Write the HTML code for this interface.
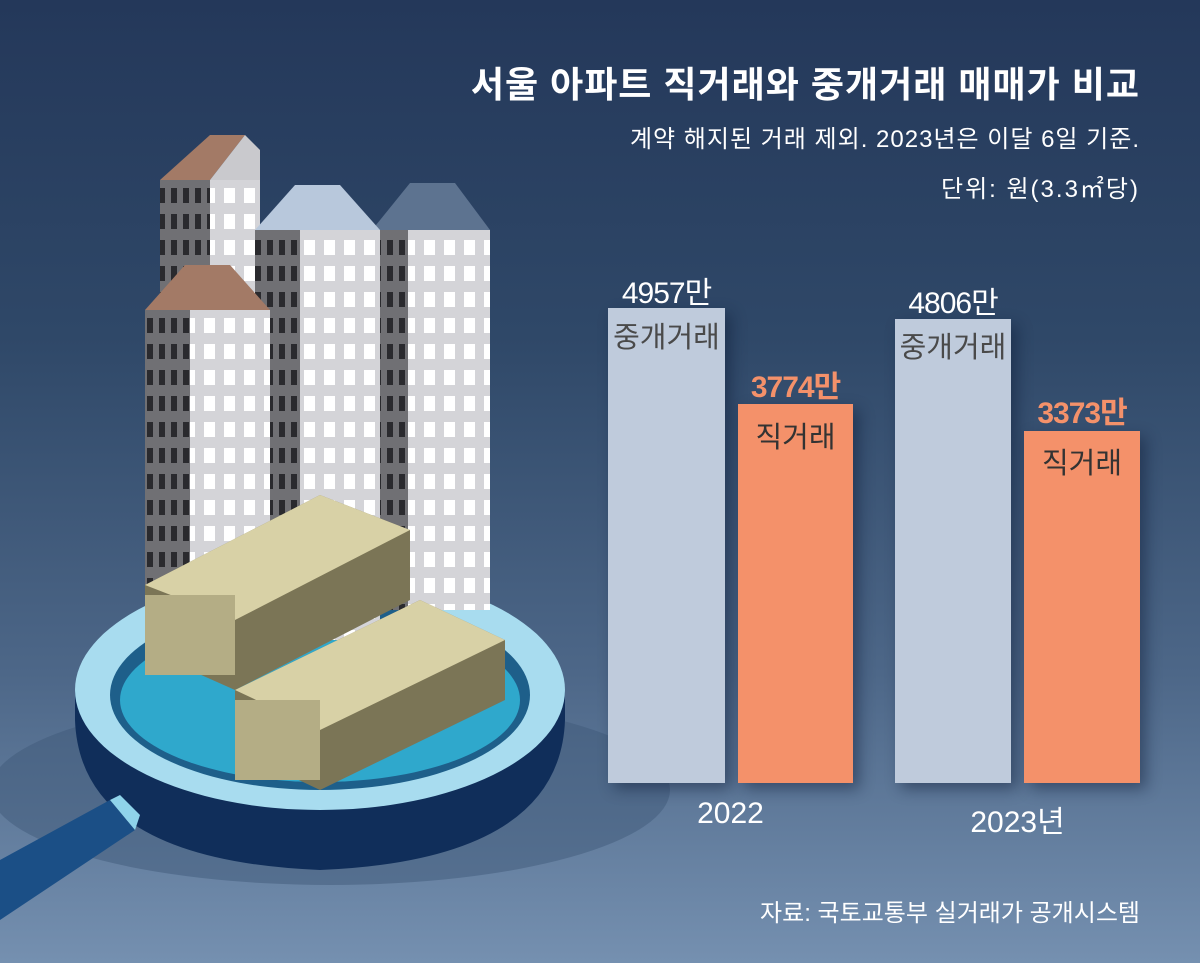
<!DOCTYPE html>
<html><head><meta charset="utf-8"><style>
body{margin:0;width:1200px;height:963px;overflow:hidden;font-family:"Liberation Sans","Noto Sans CJK KR",sans-serif;}
.bg{position:absolute;left:0;top:0;width:1200px;height:963px;background:linear-gradient(180deg,#24385a 0%,#2f4868 35%,#4d6788 70%,#7590b0 100%);}
.t{position:absolute;white-space:nowrap;}
.bar{position:absolute;box-shadow:6px 6px 14px rgba(10,25,50,.45);}
</style></head><body>
<div class="bg"></div>
<svg width="1200" height="963" style="position:absolute;left:0;top:0">
<defs>
<pattern id="wl" width="20" height="26" patternUnits="userSpaceOnUse"><rect width="20" height="26" fill="#d4d4d8"/><rect x="4" y="6" width="11" height="15" fill="#fff"/></pattern>
<pattern id="wd" width="12" height="26" patternUnits="userSpaceOnUse"><rect width="12" height="26" fill="#707074"/><rect x="3" y="6" width="6" height="15" fill="#2a2a2e"/></pattern>
</defs>
<ellipse cx="330" cy="790" rx="340" ry="95" fill="#3f5a7a" opacity=".5"/>
<path d="M75 690 Q320 760 565 690 L565 720 Q560 860 320 870 Q80 860 75 720Z" fill="#102e5a"/>
<ellipse cx="320" cy="690" rx="245" ry="120" fill="#a8dcef"/>
<ellipse cx="320" cy="695" rx="210" ry="95" fill="#1e5f8a"/>
<ellipse cx="320" cy="700" rx="200" ry="82" fill="#2fa8cc"/>
<path d="M0 860 L110 800 L135 830 L30 900 L0 920Z" fill="#1b4f86"/>
<path d="M110 800 L135 830 L140 815 L120 795Z" fill="#8fd3ea"/>
<rect x="210" y="180" width="50" height="410" fill="url(#wl)"/>
<polygon points="160,180 210,135 245,135 210,180" fill="#a37a66"/>
<polygon points="210,180 245,135 260,150 260,180" fill="#c9c9cd"/>
<rect x="160" y="180" width="50" height="410" fill="url(#wd)"/>
<rect x="408" y="230" width="82" height="380" fill="url(#wl)"/>
<polygon points="372,230 410,183 455,183 490,230" fill="#5d7390"/>
<rect x="372" y="230" width="36" height="380" fill="url(#wd)"/>
<rect x="300" y="230" width="80" height="410" fill="url(#wl)"/>
<polygon points="255,230 295,185 340,185 380,230" fill="#b8c8dc"/>
<rect x="255" y="230" width="45" height="410" fill="url(#wd)"/>
<rect x="190" y="310" width="80" height="330" fill="url(#wl)"/>
<polygon points="145,310 185,265 230,265 270,310" fill="#a37a66"/>
<rect x="145" y="310" width="45" height="330" fill="url(#wd)"/>
<polygon points="145,585 320,495 410,530 410,600 235,690 145,650" fill="#7b7556"/>
<polygon points="145,585 320,495 410,530 235,620" fill="#d8d1a6"/>
<polygon points="235,690 420,600 505,640 505,700 320,790 235,750" fill="#7b7556"/>
<polygon points="235,690 420,600 505,640 320,730" fill="#d8d1a6"/>
<rect x="235" y="700" width="85" height="80" fill="#b4ad85"/>
<rect x="145" y="595" width="90" height="80" fill="#b4ad85"/>
</svg>
<div class="t" style="right:60px;top:56px;font-size:36px;font-weight:bold;color:#fff;letter-spacing:1px">서울 아파트 직거래와 중개거래 매매가 비교</div>
<div class="t" style="right:60px;top:119px;font-size:24px;color:#fff;letter-spacing:1px">계약 해지된 거래 제외. 2023년은 이달 6일 기준.</div>
<div class="t" style="right:60px;top:169px;font-size:24px;color:#fff;letter-spacing:2px">단위: 원(3.3㎡당)</div>
<div class="bar" style="left:608px;top:308px;width:117px;height:475px;background:#bfcbdc"></div>
<div class="bar" style="left:738px;top:404px;width:115px;height:379px;background:#f4916a"></div>
<div class="bar" style="left:895px;top:319px;width:116px;height:464px;background:#bfcbdc"></div>
<div class="bar" style="left:1024px;top:431px;width:116px;height:352px;background:#f4916a"></div>
<div class="t" style="left:608px;width:117px;text-align:center;top:268px;font-size:30px;color:#fff;letter-spacing:-1px">4957만</div>
<div class="t" style="left:608px;width:117px;text-align:center;top:314px;font-size:29px;color:#4a4a4a;">중개거래</div>
<div class="t" style="left:738px;width:115px;text-align:center;top:362px;font-size:30px;color:#f4916a;font-weight:bold;letter-spacing:-1px">3774만</div>
<div class="t" style="left:738px;width:115px;text-align:center;top:414px;font-size:29px;color:#333;">직거래</div>
<div class="t" style="left:895px;width:116px;text-align:center;top:278px;font-size:30px;color:#fff;letter-spacing:-1px">4806만</div>
<div class="t" style="left:895px;width:116px;text-align:center;top:324px;font-size:29px;color:#4a4a4a;">중개거래</div>
<div class="t" style="left:1024px;width:116px;text-align:center;top:388px;font-size:30px;color:#f4916a;font-weight:bold;letter-spacing:-1px">3373만</div>
<div class="t" style="left:1024px;width:116px;text-align:center;top:440px;font-size:29px;color:#333;">직거래</div>
<div class="t" style="left:608px;width:245px;text-align:center;top:797px;font-size:30px;color:#fff;">2022</div>
<div class="t" style="left:895px;width:245px;text-align:center;top:797px;font-size:30px;color:#fff;">2023년</div>
<div class="t" style="right:60px;top:893px;font-size:24px;color:#fff;">자료: 국토교통부 실거래가 공개시스템</div>
</body></html>
